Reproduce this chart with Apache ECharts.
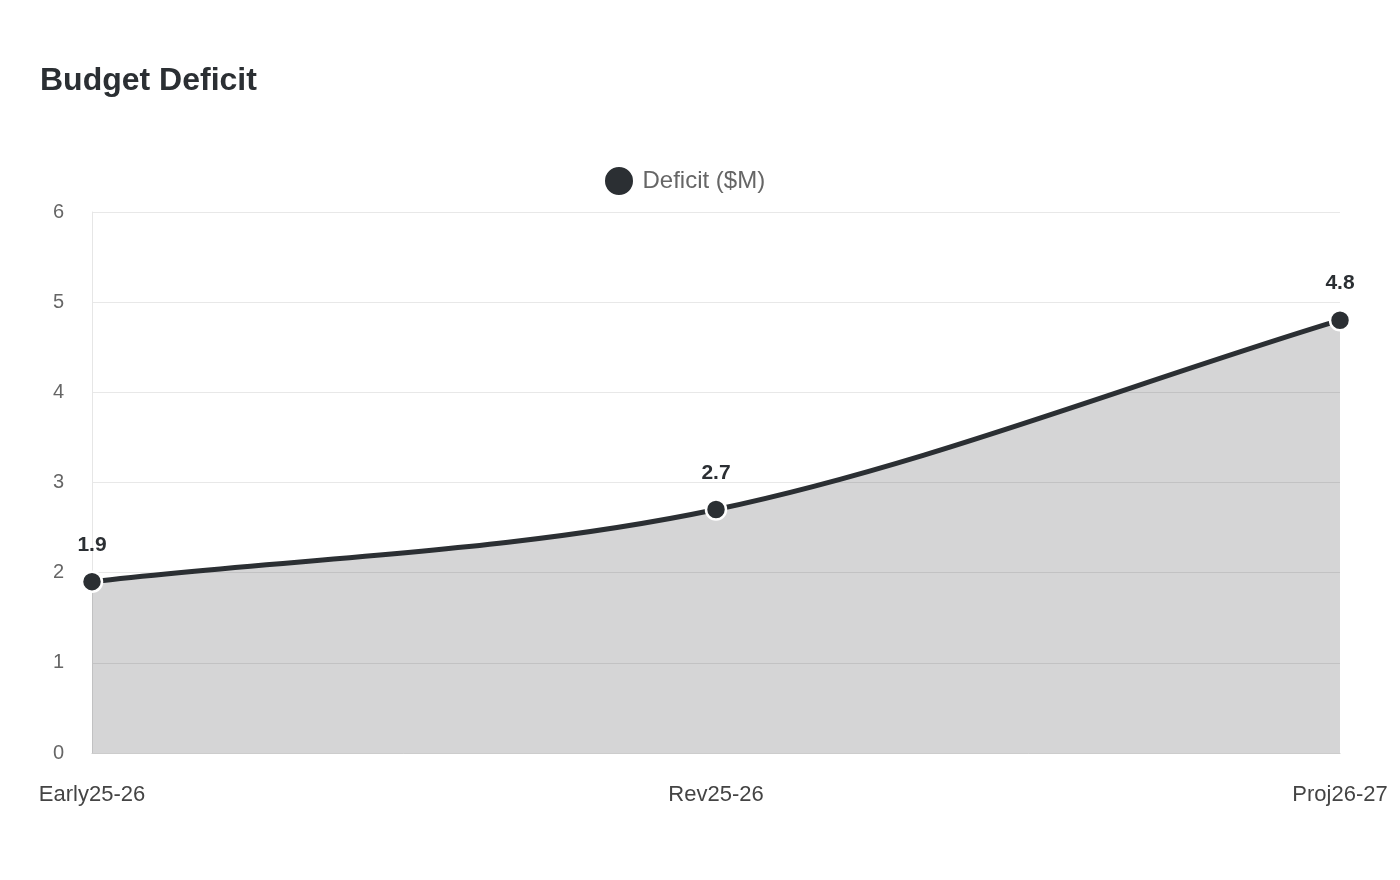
<!DOCTYPE html>
<html>
<head>
<meta charset="utf-8">
<script src="https://cdn.jsdelivr.net/npm/echarts@6/dist/echarts.min.js"></script>
<style>html,body{margin:0;padding:0;background:#fff}#c{width:1400px;height:880px}</style>
</head>
<body>
<div id="c"></div>
<script>
const categories = ["Early25-26", "Rev25-26", "Proj26-27"];
const deficitValues = [1.9, 2.7, 4.8];
const seriesName = "Deficit ($M)";
const yTicks = {min: 0, max: 6, interval: 1};

// Monotone cubic (Fritsch–Carlson) path through pixel points from the axes
function monotonePath(pts) {
  const n = pts.length;
  const d = [], m = [];
  for (let i = 0; i < n - 1; i++) d.push((pts[i+1][1] - pts[i][1]) / (pts[i+1][0] - pts[i][0]));
  for (let i = 0; i < n; i++) {
    if (i === 0) m.push(d[0]);
    else if (i === n - 1) m.push(d[n-2]);
    else m.push(d[i-1] * d[i] <= 0 ? 0 : (d[i-1] + d[i]) / 2);
  }
  for (let i = 0; i < n - 1; i++) {
    if (d[i] === 0) { m[i] = 0; m[i+1] = 0; continue; }
    const a = m[i] / d[i], b = m[i+1] / d[i], s = a*a + b*b;
    if (s > 9) { const t = 3 / Math.sqrt(s); m[i] = t*a*d[i]; m[i+1] = t*b*d[i]; }
  }
  let p = 'M' + pts[0][0] + ' ' + pts[0][1];
  for (let i = 0; i < n - 1; i++) {
    const dx = (pts[i+1][0] - pts[i][0]) / 3;
    p += ' C' + (pts[i][0] + dx) + ' ' + (pts[i][1] + m[i]*dx) + ' ' +
         (pts[i+1][0] - dx) + ' ' + (pts[i+1][1] - m[i+1]*dx) + ' ' +
         pts[i+1][0] + ' ' + pts[i+1][1];
  }
  return p;
}

const chart = echarts.init(document.getElementById('c'), null, {renderer: 'canvas'});
chart.setOption({
  animation: false,
  backgroundColor: '#ffffff',
  textStyle: {fontFamily: 'Liberation Sans, Arial, sans-serif'},
  title: {
    text: 'Budget Deficit',
    left: 40, top: 65, padding: 0,
    textStyle: {fontSize: 32, fontWeight: 'bold', color: '#2b2f33', fontFamily: 'Liberation Sans, Arial, sans-serif'}
  },
  legend: {
    top: 160, left: 598,
    icon: 'circle', itemWidth: 37, itemHeight: 30, itemGap: 10,
    textStyle: {fontSize: 24, color: '#666666'},
    data: [seriesName]
  },
  grid: {left: 92, right: 60, top: 212, bottom: 127, containLabel: false},
  xAxis: {
    type: 'category', data: categories, boundaryGap: false,
    axisLine: {show: true, lineStyle: {color: '#cccccc', width: 1}},
    axisTick: {show: false},
    axisLabel: {fontSize: 22, color: '#444444', margin: 31}
  },
  yAxis: {
    type: 'value', min: yTicks.min, max: yTicks.max, interval: yTicks.interval,
    axisLine: {show: true, lineStyle: {color: '#e6e6e6'}},
    axisTick: {show: false},
    axisLabel: {fontSize: 20, color: '#666666', margin: 28},
    splitLine: {lineStyle: {color: '#e8e8e8', width: 1}}
  },
  series: [{
    name: 'curve', type: 'custom', z: 1, silent: true,
    data: deficitValues.map((v, i) => [i, v]),
    renderItem: function (params, api) {
      if (params.dataIndex !== 0) return null;
      const pts = deficitValues.map((v, i) => api.coord([i, v]));
      const base = api.coord([0, yTicks.min])[1];
      const curve = monotonePath(pts);
      const area = curve + ' L' + pts[pts.length-1][0] + ' ' + base + ' L' + pts[0][0] + ' ' + base + ' Z';
      return {
        type: 'group',
        children: [
          {type: 'path', shape: {pathData: area}, style: {fill: 'rgba(43,47,51,0.2)', stroke: null}},
          {type: 'path', shape: {pathData: curve}, style: {fill: null, stroke: '#2b2f33', lineWidth: 5, lineCap: 'round', lineJoin: 'round'}}
        ]
      };
    }
  }, {
    name: seriesName, type: 'line', data: deficitValues, z: 3,
    symbol: 'circle', symbolSize: 20,
    lineStyle: {color: '#2b2f33', width: 0, opacity: 0},
    itemStyle: {color: '#2b2f33', borderColor: '#ffffff', borderWidth: 2.5},
    label: {show: true, position: 'top', distance: 15, fontSize: 21, fontWeight: 'bold', color: '#2b2f33'}
  }]
});
</script>
</body>
</html>
